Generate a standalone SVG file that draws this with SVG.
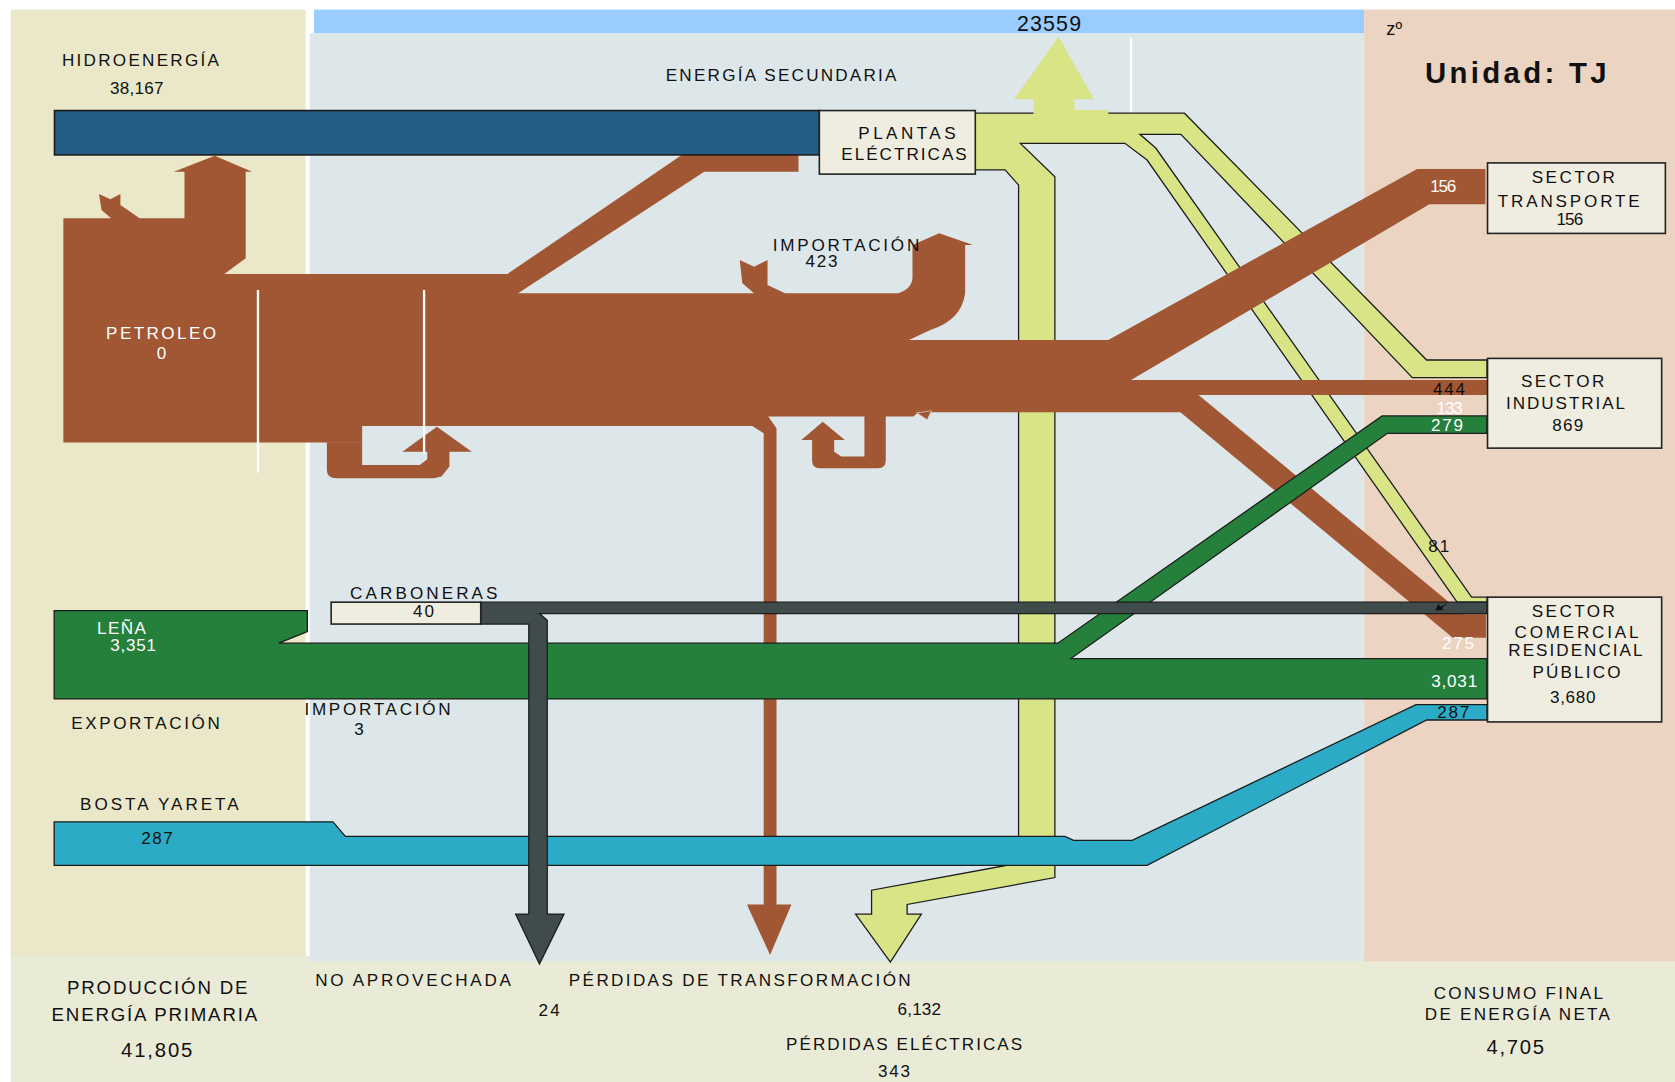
<svg xmlns="http://www.w3.org/2000/svg" width="1675" height="1082" viewBox="0 0 1675 1082">
<style>
text{font-family:"Liberation Sans",Arial,sans-serif;font-size:16px;fill:#101010}
.w{fill:#fff}
.b{font-weight:bold}
.ol{stroke:#1c1c1c;stroke-width:1.2;stroke-linejoin:miter}
.box{fill:#EFEDE0;stroke:#222;stroke-width:1.5}
.brown{fill:#A15733}
.yel{fill:#D8E486}
.grn{fill:#24803B}
.blu{fill:#2BABC6}
.gry{fill:#3F4C4B}
.wl{stroke:#fff;stroke-width:2.2}
</style>
<rect width="1675" height="1082" fill="#fff"/>
<g transform="scale(1.06824)">
 <g id="background">
  <rect x="10" y="895" width="1558" height="118" fill="#EAEBD7"/>
  <rect x="10" y="9" width="276" height="886" fill="#EAE8C8"/>
  <rect x="290" y="31" width="987" height="869" fill="#DDE7E9"/>
  <rect x="294" y="9" width="983" height="22" fill="#99CCFF"/>
  <rect x="1277" y="9" width="291" height="891" fill="#EBD4C2"/>
 </g>
 <g id="connectors">
  <path class="yel ol" d="M912.5,106 L1037.5,106 L1108.8,106 L1335.5,337 L1392,337 L1392,353.5 L1322.1,353.5 L1105.5,125.7 L1067.1,125.7 L1082.1,138.8 L1377.6,559 L1392,559 L1392,563.7 L1364,563.7 L1073.8,149.8 L1053.1,134.2 L955.2,134.2 L987.5,165.4 L987.5,821.5 L849.2,846.7 L849.2,855.7 L862.5,855.7 L833.5,900.6 L800.9,855.7 L815.9,855.7 L815.9,833.3 L953.5,808 L953.5,173.2 L940.9,159 L912.5,159 Z"/>
  <path class="yel" d="M967.5,107.5 L967.5,93 L949.2,93 L990.9,34.3 L1024.2,93 L1005.9,93 L1005.9,103 L1037.5,103 L1037.5,107.5 Z"/>
  <line class="wl" x1="1058.8" y1="36" x2="1058.8" y2="105"/>
  <path class="brown" d="M59.3,204.4 L104,204.4 L95,196.6 L92.7,181.6 L103.3,186.6 L112.7,181.6 L112.7,191.9 L130.7,204.4 L172.7,204.4 L172.7,160.7 L162.7,160.7 L201,145.7 L236,160.7 L230,160.7 L230,241.8 L210,256.5 L475,256.5 L639.2,144.5 L747.5,144.5 L747.5,160.7 L659.2,160.7 L485,274.6 L705.9,274.6 L694.9,265.2 L692.5,243.4 L705.9,249.6 L718.5,243.4 L718.5,266.8 L734.9,274.6 L840.9,274.6 Q854.2,270 854.2,259 L854.2,229.3 L879.2,218.4 L910.9,229.3 L903.5,229.3 L903.5,274.6 Q900,300 870.9,308.9 L850.9,318.2 L1037.5,318.2 L1326.5,158.2 L1390.5,158.2 L1390.5,191.3 L1338.1,191.3 L1058.8,355.7 L1392,355.7 L1392,369.7 L1122,369.7 L1370,575 L1391,575 L1391,597 L1360,597 L1105,386 L860,386 L855,390 L719.2,390 L726.9,401 L726.9,846.7 L740.9,846.7 L720.9,894 L699.2,846.7 L714.9,846.7 L714.9,405.6 L704.2,398.7 L339,398.7 L339,414.3 L59.3,414.3 Z"/>
  <path class="brown" d="M306,414 L306,440 Q306,447.7 315,447.7 L406,447.7 L413.3,446 L420.7,436.8 L420.7,422.8 L441.7,422.8 L409,399.4 L376.7,422.8 L400,422.8 L400,430 L393,435.2 L339,435.2 L339,414 Z"/>
  <path class="brown" d="M809.2,388 L809.2,427.4 L787.5,427.4 L780.9,422.8 L780.9,411.8 L790.9,411.8 L770.2,394.7 L750.2,411.8 L760.2,411.8 L760.2,430.6 Q760.2,438.4 767,438.4 L822,438.4 Q829.2,438.4 829.2,430.6 L829.2,388 Z"/>
  <path class="brown" d="M858,386.5 L872,384.5 L868,393 Z" stroke="#e9d6c8" stroke-width="0.6"/>
  <line class="wl" x1="241.5" y1="271.4" x2="241.5" y2="442.4"/>
  <line class="wl" x1="397" y1="271.4" x2="397" y2="425.3"/>
  <path class="grn ol" d="M50.7,571.6 L287.7,571.6 L287.7,591.3 L261,602.1 L990.2,602.1 L1293.8,389.4 L1392,389.4 L1392,405.6 L1298.8,405.6 L1002.5,616.5 L1392,616.5 L1392,654.3 L50.7,654.3 Z"/>
  <path class="blu ol" d="M50.7,769.3 L311.7,769.3 L323.3,783 L997,783 L1005,786.6 L1059.8,786.6 L1325.5,659.7 L1392,659.7 L1392,674 L1335.5,674 L1073.8,810 L50.7,810 Z"/>
  <path class="gry ol" d="M450,563.7 L1392,563.7 L1392,574.4 L505,574.4 L512.3,580.6 L512.3,855.7 L528,855.7 L505,902.4 L482.7,855.7 L495,855.7 L495,584.2 L450,584.2 Z"/>
  <path fill="#111" d="M1343.5,571.5 L1346.5,565.5 L1348.5,568 L1355.5,564.5 L1349.5,569.5 L1352,571 Z"/>
 </g>
 <g id="hidroenergia">
  <rect x="51" y="103.5" width="716" height="41.5" fill="#265D87" stroke="#1a1a1a" stroke-width="1.5"/>
  <text x="58" y="62" textLength="147" lengthAdjust="spacing">HIDROENERGÍA</text>
  <text x="103" y="88" textLength="50" lengthAdjust="spacing">38,167</text>
 </g>
 <g id="petroleo">
  <text class="w" x="99.3" y="317.6" textLength="103" lengthAdjust="spacing">PETROLEO</text>
  <text class="w" x="146.7" y="336">0</text>
  <text x="723.5" y="234.6" textLength="137" lengthAdjust="spacing">IMPORTACIÓN</text>
  <text x="754" y="249.6" textLength="30" lengthAdjust="spacing">423</text>
 </g>
 <g id="plantas-electricas">
  <rect class="box" x="767" y="103.5" width="146" height="59.5"/>
  <text x="803.5" y="130.1" textLength="91" lengthAdjust="spacing">PLANTAS</text>
  <text x="787.5" y="149.8" textLength="117.5" lengthAdjust="spacing">ELÉCTRICAS</text>
 </g>
 <g id="sector-transporte">
  <rect class="box" x="1392.5" y="152.5" width="166.5" height="66"/>
  <text x="1433.8" y="171.6" textLength="78" lengthAdjust="spacing">SECTOR</text>
  <text x="1402" y="194" textLength="133" lengthAdjust="spacing">TRANSPORTE</text>
  <text x="1457" y="211" textLength="25" lengthAdjust="spacing">156</text>
  <text class="w" x="1338.8" y="180" textLength="24.5" lengthAdjust="spacing">156</text>
 </g>
 <g id="sector-industrial">
  <rect class="box" x="1392.5" y="335.5" width="163" height="84"/>
  <text x="1423.8" y="362" textLength="78" lengthAdjust="spacing">SECTOR</text>
  <text x="1409.8" y="383" textLength="111.5" lengthAdjust="spacing">INDUSTRIAL</text>
  <text x="1453" y="403.4" textLength="29" lengthAdjust="spacing">869</text>
  <text x="1341.5" y="369.7" textLength="30" lengthAdjust="spacing">444</text>
  <text class="w" x="1344.8" y="387.8" textLength="24.5" lengthAdjust="spacing">133</text>
  <text class="w" x="1339.5" y="403.4" textLength="30" lengthAdjust="spacing">279</text>
 </g>
 <g id="sector-comercial">
  <rect class="box" x="1392.5" y="559" width="163" height="116.8"/>
  <text x="1433.8" y="578" textLength="78" lengthAdjust="spacing">SECTOR</text>
  <text x="1417.8" y="597.5" textLength="116" lengthAdjust="spacing">COMERCIAL</text>
  <text x="1412" y="614" textLength="125.5" lengthAdjust="spacing">RESIDENCIAL</text>
  <text x="1434.5" y="634.5" textLength="82.5" lengthAdjust="spacing">PÚBLICO</text>
  <text x="1451" y="657.9" textLength="42.5" lengthAdjust="spacing">3,680</text>
  <text x="1337.1" y="517" textLength="19.5" lengthAdjust="spacing">81</text>
  <text class="w" x="1349.8" y="607.5" textLength="30" lengthAdjust="spacing">275</text>
  <text class="w" x="1339.8" y="643.5" textLength="43" lengthAdjust="spacing">3,031</text>
  <text x="1345.5" y="672.3" textLength="30" lengthAdjust="spacing">287</text>
 </g>
 <g id="carboneras">
  <rect class="box" x="310" y="563.7" width="140" height="20.5" stroke-width="1.3"/>
  <text x="327.7" y="560.8" textLength="138" lengthAdjust="spacing">CARBONERAS</text>
  <text x="386.7" y="578" textLength="19.5" lengthAdjust="spacing">40</text>
 </g>
 <g id="lena">
  <text class="w" x="90.7" y="593.1" textLength="46" lengthAdjust="spacing">LEÑA</text>
  <text class="w" x="103.3" y="609.3" textLength="42.7" lengthAdjust="spacing">3,351</text>
  <text x="66.7" y="682" textLength="139" lengthAdjust="spacing">EXPORTACIÓN</text>
  <text x="285" y="669.4" textLength="136.7" lengthAdjust="spacing">IMPORTACIÓN</text>
  <text x="331.7" y="688.4">3</text>
 </g>
 <g id="bosta-yareta">
  <text x="75" y="758.5" textLength="148.3" lengthAdjust="spacing">BOSTA YARETA</text>
  <text x="132.3" y="790.2" textLength="29.4" lengthAdjust="spacing">287</text>
 </g>
 <g id="totals">
  <text x="952" y="28.7" style="font-size:20px" textLength="60" lengthAdjust="spacing">23559</text>
  <text x="623.2" y="75.8" textLength="216" lengthAdjust="spacing">ENERGÍA SECUNDARIA</text>
  <text x="1297.8" y="32.8" style="font-size:17px">zº</text>
  <text class="b" x="1334" y="78" style="font-size:27.5px" textLength="170" lengthAdjust="spacing">Unidad: TJ</text>
  <text x="62.7" y="930.4" style="font-size:17.5px" textLength="169" lengthAdjust="spacing">PRODUCCIÓN DE</text>
  <text x="48.3" y="955.6" style="font-size:17.5px" textLength="192.4" lengthAdjust="spacing">ENERGÍA PRIMARIA</text>
  <text x="113.3" y="989.4" style="font-size:19px" textLength="66.7" lengthAdjust="spacing">41,805</text>
  <text x="295" y="923.3" textLength="183.3" lengthAdjust="spacing">NO APROVECHADA</text>
  <text x="504" y="951" textLength="20" lengthAdjust="spacing">24</text>
  <text x="532.5" y="923.3" textLength="320" lengthAdjust="spacing">PÉRDIDAS DE TRANSFORMACIÓN</text>
  <text x="840.2" y="950.2" textLength="40.7" lengthAdjust="spacing">6,132</text>
  <text x="735.9" y="983.3" textLength="221" lengthAdjust="spacing">PÉRDIDAS ELÉCTRICAS</text>
  <text x="821.9" y="1008.5" textLength="30" lengthAdjust="spacing">343</text>
  <text x="1342.1" y="934.8" textLength="158.4" lengthAdjust="spacing">CONSUMO FINAL</text>
  <text x="1333.8" y="954.5" textLength="173.3" lengthAdjust="spacing">DE ENERGÍA NETA</text>
  <text x="1391.5" y="987" style="font-size:19px" textLength="54" lengthAdjust="spacing">4,705</text>
 </g>
</g>
</svg>
